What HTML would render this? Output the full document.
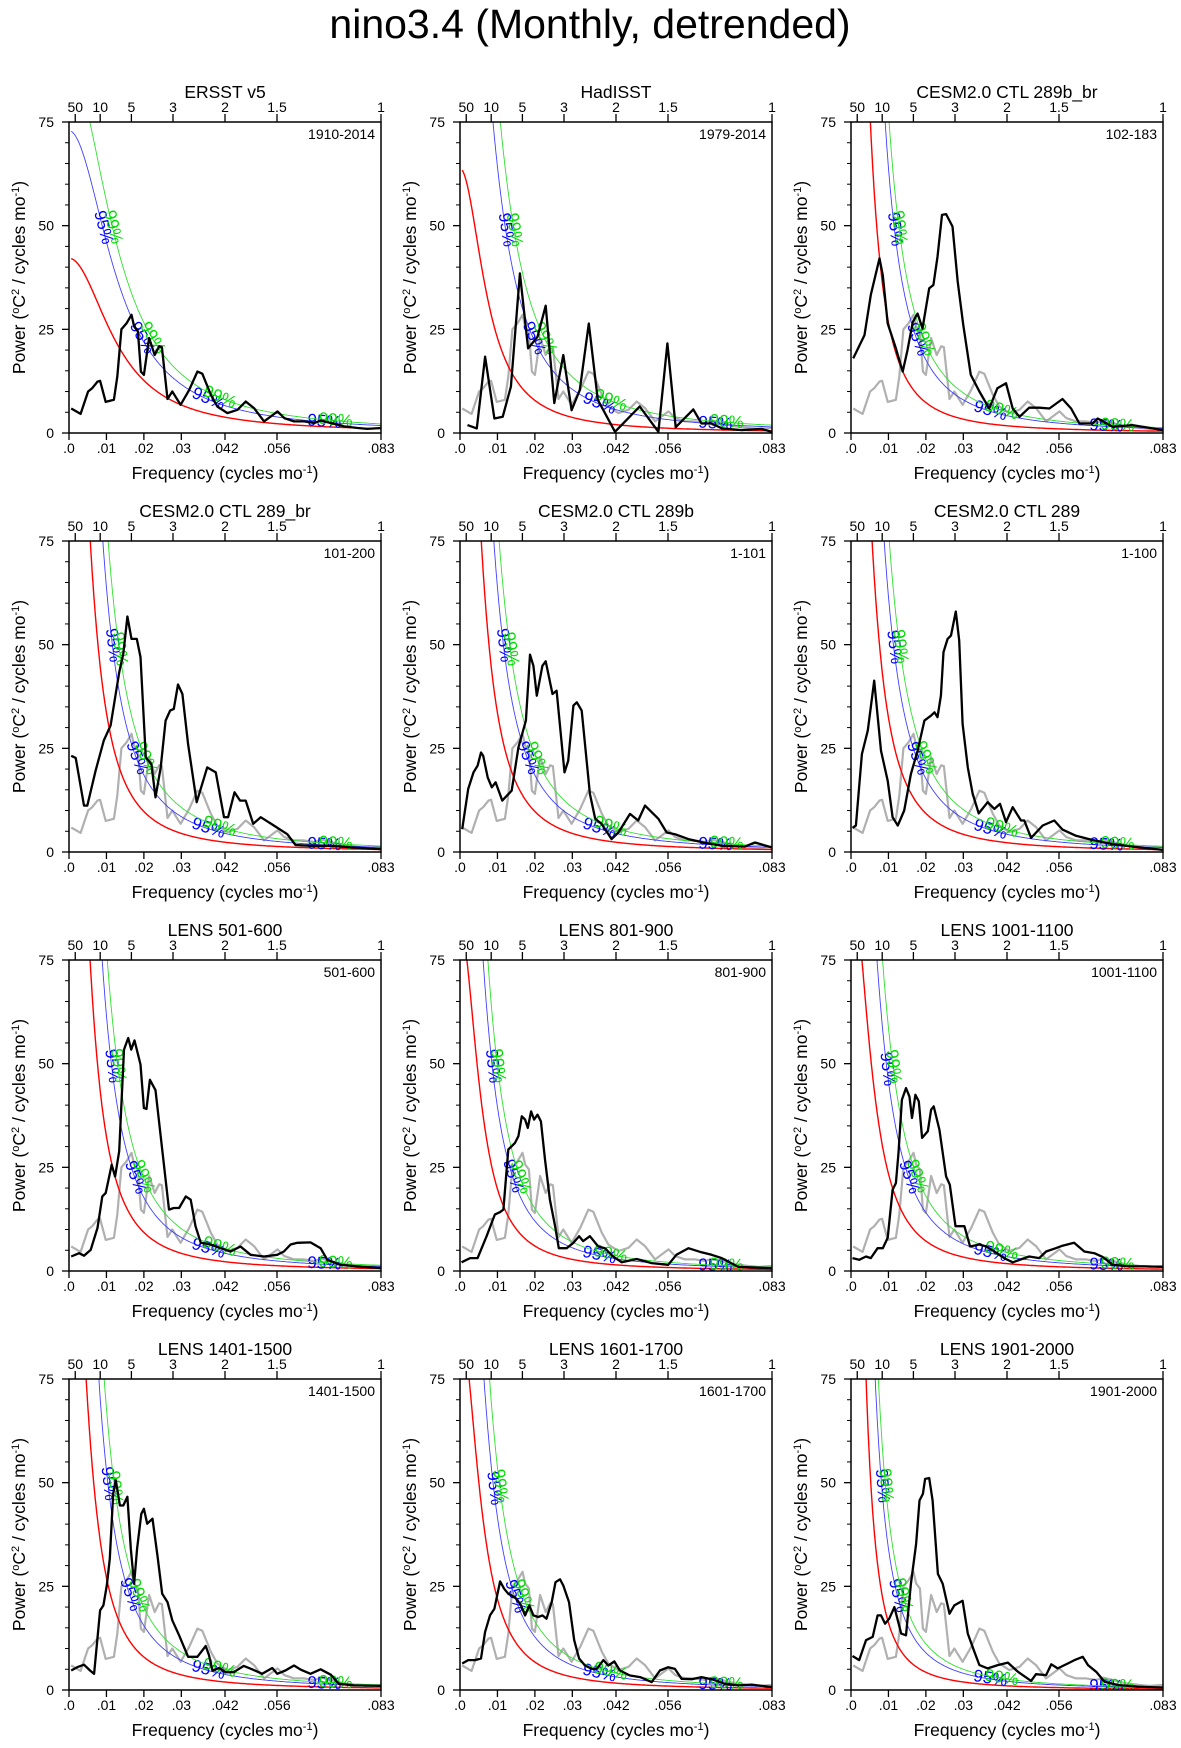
<!DOCTYPE html>
<html>
<head>
<meta charset="utf-8">
<style>
  html,body{margin:0;padding:0;background:#fff;}
  svg{display:block;font-family:"Liberation Sans","DejaVu Sans",sans-serif;}
</style>
</head>
<body>
<svg id="fig" xmlns="http://www.w3.org/2000/svg" width="1181" height="1748" viewBox="0 0 1181 1748">
  <rect x="0" y="0" width="1181" height="1748" fill="#fff"/>
  <text x="590" y="38" text-anchor="middle" font-size="41" fill="#000">nino3.4 (Monthly, detrended)</text>
</svg>
<script>
// ---------- data ----------
const titles = ["ERSST v5","HadISST","CESM2.0 CTL 289b_br","CESM2.0 CTL 289_br","CESM2.0 CTL 289b","CESM2.0 CTL 289","LENS 501-600","LENS 801-900","LENS 1001-1100","LENS 1401-1500","LENS 1601-1700","LENS 1901-2000"];
const periods = ["1910-2014","1979-2014","102-183","101-200","1-101","1-100","501-600","801-900","1001-1100","1401-1500","1601-1700","1901-2000"];
const xTickVals = [0,0.01,0.02,0.03,1/24,1/18,1/12];
const xTickLabels = [".0",".01",".02",".03",".042",".056",".083"];
const topTickYears = [50,10,5,3,2,1.5,1];
const topTickLabels = ["50","10","5","3","2","1.5","1"];
const yMajorTicks = [0,25,50,75];
const yMinorTicks = [5,10,15,20,30,35,40,45,55,60,65,70];
// red-noise (Markov) parameters per panel
const lag1 = [0.921,0.954,0.977,0.9705,0.9705,0.972,0.972,0.9655,0.9645,0.9697,0.9646,0.9836];
const redScale = [0.263,0.135,0.117,0.158,0.158,0.15,0.15,0.099,0.119,0.129,0.111,0.0675];
const blueK = [1.73,2.8,2.4,1.9,1.9,1.9,1.9,2.0,1.95,1.95,1.9,2.1];
const greenK = [2.1,3.6,2.9,2.4,2.4,2.4,2.4,2.5,2.5,2.5,2.45,2.6];
const showGray = [false,true,true,true,true,true,true,true,true,true,true,true];

// spectra: frequency (cycles/mo) and power arrays
const ersstF = [.0006,.0031,.0051,.0062,.0076,.0083,.0098,.012,.0129,.014,.0154,.0167,.0174,.0184,.0192,.0200,.0214,.0229,.0241,.0248,.0263,.0276,.0298,.0321,.0343,.0356,.0379,.0396,.0423,.045,.0472,.0494,.0521,.0539,.0557,.0575,.0601,.0628,.0655,.0673,.0699,.0735,.0771,.0797,.0833];
const ersstP = [5.9,4.6,10,10.8,12.4,12.6,7.5,8.0,13.6,25,26.5,28.5,25.7,24.5,14.8,14,22.9,18.8,20.9,20.7,8.2,10,6.8,10.4,14.8,14.3,9.2,6.4,4.8,5.6,7.6,6.0,2.8,4.0,5.2,3.6,2.8,2.8,2.4,3.0,2.4,1.6,1.2,1.0,1.2];
const hadF = [.002,.0045,.0067,.0092,.0114,.0136,.016,.0182,.0207,.0229,.0252,.0276,.0298,.032,.0344,.0368,.0414,.048,.053,.0554,.0576,.0623,.0645,.0672,.07,.0752,.0805,.0832];
const hadP = [1.9,1.1,18.4,3.5,3.9,11.2,38.5,20.4,23.2,30.7,7.2,18.8,5.5,10.4,26.4,8,0.3,6.4,0.3,21.6,1.4,5.7,2.3,2.3,1.1,0.7,1,0.3];
const c289bbrF = [.0006,.0036,.0053,.0076,.0085,.0098,.012,.0138,.0151,.0165,.0178,.0191,.0209,.022,.0231,.0243,.0254,.0271,.0285,.03,.032,.0343,.0369,.0391,.0414,.0432,.045,.0476,.0503,.053,.0565,.0588,.061,.0645,.0659,.0699,.0752,.0833];
const c289bbrP = [18,23.6,33.3,42.1,38,26.4,20.4,14.8,20,26.8,28.8,25.2,34.9,35.7,42.5,52.6,52.8,49.8,36.5,26,14,10,5.9,10.8,12,5.9,3.9,6.1,6.1,5.9,8.2,5.9,2.3,2.3,3.5,1.5,1.9,0.7];
const c289brF = [.0006,.0018,.004,.0049,.0071,.0093,.0111,.0134,.0145,.0156,.0167,.0181,.0191,.0205,.022,.0231,.0245,.0258,.027,.028,.0291,.0303,.0318,.0341,.0369,.0392,.0414,.0425,.0442,.0457,.0472,.0492,.0512,.0547,.0583,.0605,.0645,.0699,.0752,.0832];
const c289brP = [23.2,22.7,11.2,11.2,19.6,26.9,30.5,43.3,47.8,56.8,51.4,51.4,47,22.8,21.2,13.2,20.4,31.7,34.1,34.5,40.4,38.1,26,12,20.4,19.2,8.4,8.4,14.4,12.4,12.4,6.8,8.4,6.4,4.3,1.7,1.5,1.5,1.1,0.7];
const c289bF = [.0006,.0022,.0036,.0047,.0056,.0062,.0074,.0085,.0095,.0113,.0138,.0156,.0176,.0187,.0196,.0205,.022,.0229,.0247,.0258,.0279,.0289,.0303,.0312,.0325,.0347,.0361,.0378,.0405,.0423,.0454,.0476,.0494,.0512,.053,.0552,.0574,.061,.065,.0699,.0761,.0788,.0832];
const c289bP = [5.5,15.2,19.2,20.8,24,23.2,18,15.6,16.8,12.4,14.8,25.2,31.7,47.6,44.9,37.7,44.9,46,38.1,38.9,19.2,22,35.3,36.1,34.1,14,8,6.8,3.1,4.7,9.2,7.6,11.2,9.6,8,4.7,4.3,3.1,2.3,1.5,1.3,2.3,1.1];
const c289F = [.0004,.0013,.0029,.0045,.0062,.008,.0098,.0111,.0125,.0142,.016,.0178,.0196,.0214,.0223,.0231,.024,.0247,.0258,.0267,.028,.0289,.0298,.0312,.0325,.0341,.0365,.0383,.0398,.0414,.0432,.0454,.0463,.0481,.0512,.0543,.0565,.0601,.0645,.0699,.0752,.0832];
const c289P = [5.8,6.4,23.6,29.3,41.3,24.4,17.2,8.4,6.4,10,18.8,24.4,31.7,32.9,33.7,32.5,37.7,48.2,51.4,52.2,58,51,30.9,20.4,14,9.3,12,10.4,11.6,7.2,10.8,7.6,7.6,3.4,6.4,7.6,5.4,3.9,2.9,1.9,1.3,0.5];
const l501F = [.0006,.0027,.004,.0058,.0076,.0089,.0098,.0114,.0123,.0134,.0147,.0158,.0166,.0175,.0191,.02,.0207,.0216,.0231,.0249,.0267,.028,.0294,.0312,.0325,.0338,.0352,.0378,.0405,.0432,.0458,.0485,.0521,.0556,.0574,.0592,.061,.0645,.0672,.069,.0725,.077,.0832];
const l501P = [3.5,4.3,3.7,5.1,10.4,18,18.8,25.6,22.8,28.9,53.4,56.2,53.4,55.6,49.8,39.3,39.1,46.1,43.6,29.3,14.8,15.2,15.2,18,17.2,10.8,6.8,6.4,5.5,4.7,5.9,3.9,3.5,3.9,4.7,6.4,6.8,6.9,5.5,2.7,1.5,1.1,0.7];
const l801F = [.0004,.0027,.0047,.0071,.0093,.0107,.0116,.0129,.0147,.0156,.0165,.0174,.0181,.019,.0198,.0207,.0216,.0227,.024,.0254,.0264,.0285,.0303,.0318,.0329,.0347,.0369,.0387,.0409,.0432,.0472,.0512,.0556,.0578,.061,.0645,.0672,.0699,.0743,.0832];
const l801P = [2.1,3.1,3.1,8.4,13.6,14.2,14.8,29.3,30.9,32.5,37.3,36.5,34.5,38.5,36.5,37.7,36.1,26.9,17.2,10.8,5.5,5.5,6.8,8.4,7.2,8.4,5.9,5.5,3.5,2.1,2.9,1.9,1.5,3.9,5.5,4.5,3.9,3.1,1,0.7];
const l1001F = [.0004,.0022,.004,.0053,.0071,.0085,.0098,.0111,.012,.0127,.0136,.0147,.0156,.0163,.0172,.0181,.019,.0205,.0214,.0221,.0236,.0254,.0264,.0279,.0303,.0318,.0343,.0361,.0383,.0409,.0432,.0476,.0503,.0521,.0547,.0565,.0596,.0623,.065,.0672,.0699,.0743,.0788,.0832];
const l1001P = [3.1,2.7,3.5,3.1,5.5,5.5,8,19.6,21.2,28.5,41.3,44.1,42.1,36.9,42.5,40.9,32.1,33.7,38.9,39.7,34.1,22.8,20.8,10.8,10.8,5.9,6.4,5.9,4.7,3.1,2.1,3.5,3.1,4.7,5.5,6.1,6.8,4.7,4.3,3.4,1.5,1.1,1.1,1];
const l1401F = [.0006,.0022,.004,.0056,.0067,.0083,.0092,.0101,.0109,.0118,.0125,.0136,.0145,.0156,.0165,.0174,.0182,.0193,.02,.0209,.0223,.0236,.0249,.0263,.0276,.0294,.0318,.0343,.0365,.0374,.0383,.0401,.0418,.044,.0467,.0489,.0516,.0543,.0556,.0578,.0601,.0619,.0645,.0672,.0699,.0721,.0761,.0832];
const l1401P = [4.7,5.5,6.1,4.7,3.9,19.2,20.4,25.2,31.7,47.4,50.6,44.5,44.5,46.6,34.1,25.6,34.1,42.5,43.7,40.1,41.3,32.5,23.2,21.2,16.8,13.2,8,8,10.6,8.4,4.7,5.3,4.3,4.3,5.8,5,3.9,5.3,3.9,4.7,5.9,4.9,3.9,5,3.7,1.5,1.1,1];
const l1601F = [.0006,.0022,.004,.0056,.0067,.008,.0092,.0107,.0118,.0129,.014,.0151,.0163,.0174,.0185,.0196,.0209,.022,.0231,.0245,.0255,.0267,.0276,.0291,.0305,.0318,.0334,.0352,.0365,.0383,.0396,.0412,.0427,.0454,.0481,.0512,.0534,.0556,.0574,.0592,.0619,.0645,.0672,.0708,.0743,.0779,.0832];
const l1601P = [6.4,7.2,7.2,7.6,14,18,19.6,26.2,24.4,23.2,22.7,22,20.4,18,20.4,18,17.6,18,17.2,21.2,26,26.7,25.2,21.2,12,7.6,5.9,5.1,5.1,7.2,5.9,6.9,4.7,3.5,3.1,1.9,4.7,5.5,5.1,2.7,2.6,3.1,2.6,1.5,1.1,1.3,0.7];
const l1901F = [.0004,.0022,.004,.0058,.0071,.008,.0091,.0102,.0116,.0134,.0147,.016,.0174,.0183,.0192,.0198,.0209,.0218,.0232,.0245,.0263,.0276,.0298,.0312,.0328,.0343,.0365,.0392,.0419,.0446,.0481,.0494,.0521,.0535,.0552,.0579,.0597,.0619,.0633,.0655,.0677,.0713,.0766,.0833];
const l1901P = [8.2,7.2,12,12.8,18,18,16,17.2,20,13.6,13.2,25.6,35.2,45.7,47.3,50.9,51.1,45.7,28,25.6,18.4,20.4,21.5,13.6,9.6,6,5.2,6,6.6,4.4,2.2,3.8,3.6,6.2,5.2,6.4,7.2,8,6,4.4,2,1.2,0.8,0.6];

const specF = [ersstF,hadF,c289bbrF,c289brF,c289bF,c289F,l501F,l801F,l1001F,l1401F,l1601F,l1901F];
const specP = [ersstP,hadP,c289bbrP,c289brP,c289bP,c289P,l501P,l801P,l1001P,l1401P,l1601P,l1901P];

// ---------- layout ----------
const colX = [69,460,851], rowY = [122,541,960,1379];
const W = 312, H = 311, FMAX = 1/12, YMAX = 75;
const NS = "http://www.w3.org/2000/svg";
const svg = document.getElementById('fig');

function mk(tag, attrs, parent){
  const e = document.createElementNS(NS, tag);
  for (const k in attrs) e.setAttribute(k, attrs[k]);
  (parent||svg).appendChild(e);
  return e;
}
function redNoise(i,f){
  const r = lag1[i];
  return redScale[i] / ((1-r)*(1-r) + 2*r*(1-Math.cos(2*Math.PI*f)));
}

for (let i=0;i<12;i++){
  const px = colX[i%3], py = rowY[Math.floor(i/3)];
  const xs = f => px + f/FMAX*W;
  const ys = v => py + H - v/YMAX*H;

  const g = mk('g', {});
  
  

  const clipId = 'clip'+i;
  const cp = mk('clipPath', {id:clipId}, g);
  mk('rect', {x:px, y:py, width:W, height:H}, cp);

  const t = mk('text', {x:px+W/2, y:py-24, 'text-anchor':'middle', 'font-size':'17.5'}, g);
  t.textContent = titles[i];
  
  

  const pl = mk('text', {x:px+W-6, y:py+17, 'text-anchor':'end', 'font-size':'14'}, g);
  pl.textContent = periods[i];
  
  

  const cg = mk('g', {'clip-path':'url(#'+clipId+')'}, g);

  if (showGray[i]){
    const d = ersstF.map((f,k)=>(k?'L':'M')+xs(f).toFixed(1)+','+ys(ersstP[k]).toFixed(1)).join('');
    const gp = mk('path', {d:d, fill:'none', stroke:'#b0b0b0', 'stroke-width':'2.2', 'stroke-linejoin':'round'}, cg);
    
    
  }

  const curveDefs = [
    {k:1, color:'#ff0000', w:1.4, name:'red-noise-curve', label:null},
    {k:blueK[i], color:'#4040ff', w:0.9, name:'confidence-95-curve', label:'95%', lc:'#0000ff', vals:[50,23], fr:[0.037,0.068]},
    {k:greenK[i], color:'#30e030', w:0.9, name:'confidence-99-curve', label:'99%', lc:'#00dd00', vals:[50,23], fr:[0.040,0.071]}
  ];
  curveDefs.forEach(cd=>{
    const pts=[];
    for (let f=0.0006; f<=FMAX+1e-9; f+=0.0002){
      const v = Math.min(redNoise(i,f)*cd.k, 200);
      pts.push([xs(f), ys(v), f, v]);
    }
    const d = pts.map((p,k)=>(k?'L':'M')+p[0].toFixed(1)+','+p[1].toFixed(1)).join('');
    const cp2 = mk('path', {d:d, fill:'none', stroke:cd.color, 'stroke-width':cd.w}, cg);
    
    
    if (cd.label){
      const targets = [];
      cd.vals.forEach(v=>{ const idx = pts.findIndex(p=>p[3]<=v); if(idx>0) targets.push(idx); });
      cd.fr.forEach(fr=>{ const idx = pts.findIndex(p=>p[2]>=fr); if(idx>0) targets.push(idx); });
      targets.forEach(idx=>{
        const a = pts[Math.max(idx-3,0)], b = pts[Math.min(idx+3,pts.length-1)];
        const ang = Math.atan2(b[1]-a[1], b[0]-a[0])*180/Math.PI;
        const p = pts[idx];
        const lt = mk('text', {x:p[0].toFixed(1), y:p[1].toFixed(1), 'text-anchor':'middle', 'dominant-baseline':'middle', 'font-size':'17', fill:cd.lc, transform:'rotate('+ang.toFixed(1)+' '+p[0].toFixed(1)+' '+p[1].toFixed(1)+')'}, cg);
        lt.textContent = cd.label;
        
        
      });
    }
  });

  const F = specF[i], P = specP[i];
  const d = F.map((f,k)=>(k?'L':'M')+xs(f).toFixed(1)+','+ys(P[k]).toFixed(1)).join('');
  const sp = mk('path', {d:d, fill:'none', stroke:'#000', 'stroke-width':'2.3', 'stroke-linejoin':'round'}, cg);
  
  

  const fr = mk('rect', {x:px, y:py, width:W, height:H, fill:'none', stroke:'#000', 'stroke-width':'1.5'}, g);
  
  

  yMajorTicks.forEach(v=>{
    const tk = mk('line', {x1:px-7, x2:px, y1:ys(v), y2:ys(v), stroke:'#000', 'stroke-width':'1.3'}, g);
    
    
    const tl = mk('text', {x:px-15, y:ys(v)+5, 'text-anchor':'end', 'font-size':'14'}, g);
    tl.textContent = String(v);
    
    
  });
  yMinorTicks.forEach(v=>{
    const tk = mk('line', {x1:px-4, x2:px, y1:ys(v), y2:ys(v), stroke:'#000', 'stroke-width':'1'}, g);
    
    
  });

  xTickVals.forEach((f,k)=>{
    const tk = mk('line', {x1:xs(f), x2:xs(f), y1:py+H, y2:py+H+7, stroke:'#000', 'stroke-width':'1.3'}, g);
    
    
    const tl = mk('text', {x:xs(f), y:py+H+20, 'text-anchor':'middle', 'font-size':'14'}, g);
    tl.textContent = xTickLabels[k];
    
    
  });

  topTickYears.forEach((yr,k)=>{
    const f = 1/(12*yr);
    const tk = mk('line', {x1:xs(f), x2:xs(f), y1:py, y2:py-8, stroke:'#000', 'stroke-width':'1.3'}, g);
    
    
    const tl = mk('text', {x:xs(f), y:py-10, 'text-anchor':'middle', 'font-size':'14'}, g);
    tl.textContent = topTickLabels[k];
    
    
  });

  const xt = mk('text', {x:px+W/2, y:py+H+46, 'text-anchor':'middle', 'font-size':'17.5'}, g);
  xt.innerHTML = 'Frequency (cycles mo<tspan baseline-shift="super" font-size="11">-1</tspan>)';
  
  

  const cx = px-44, cy = py+H/2;
  const yt = mk('text', {x:cx, y:cy, 'text-anchor':'middle', 'font-size':'17.5', transform:'rotate(-90 '+cx+' '+cy+')'}, g);
  yt.innerHTML = 'Power (<tspan baseline-shift="super" font-size="11">o</tspan>C<tspan baseline-shift="super" font-size="11">2</tspan> / cycles mo<tspan baseline-shift="super" font-size="11">-1</tspan>)';
  
  
}
</script>
</body>
</html>
